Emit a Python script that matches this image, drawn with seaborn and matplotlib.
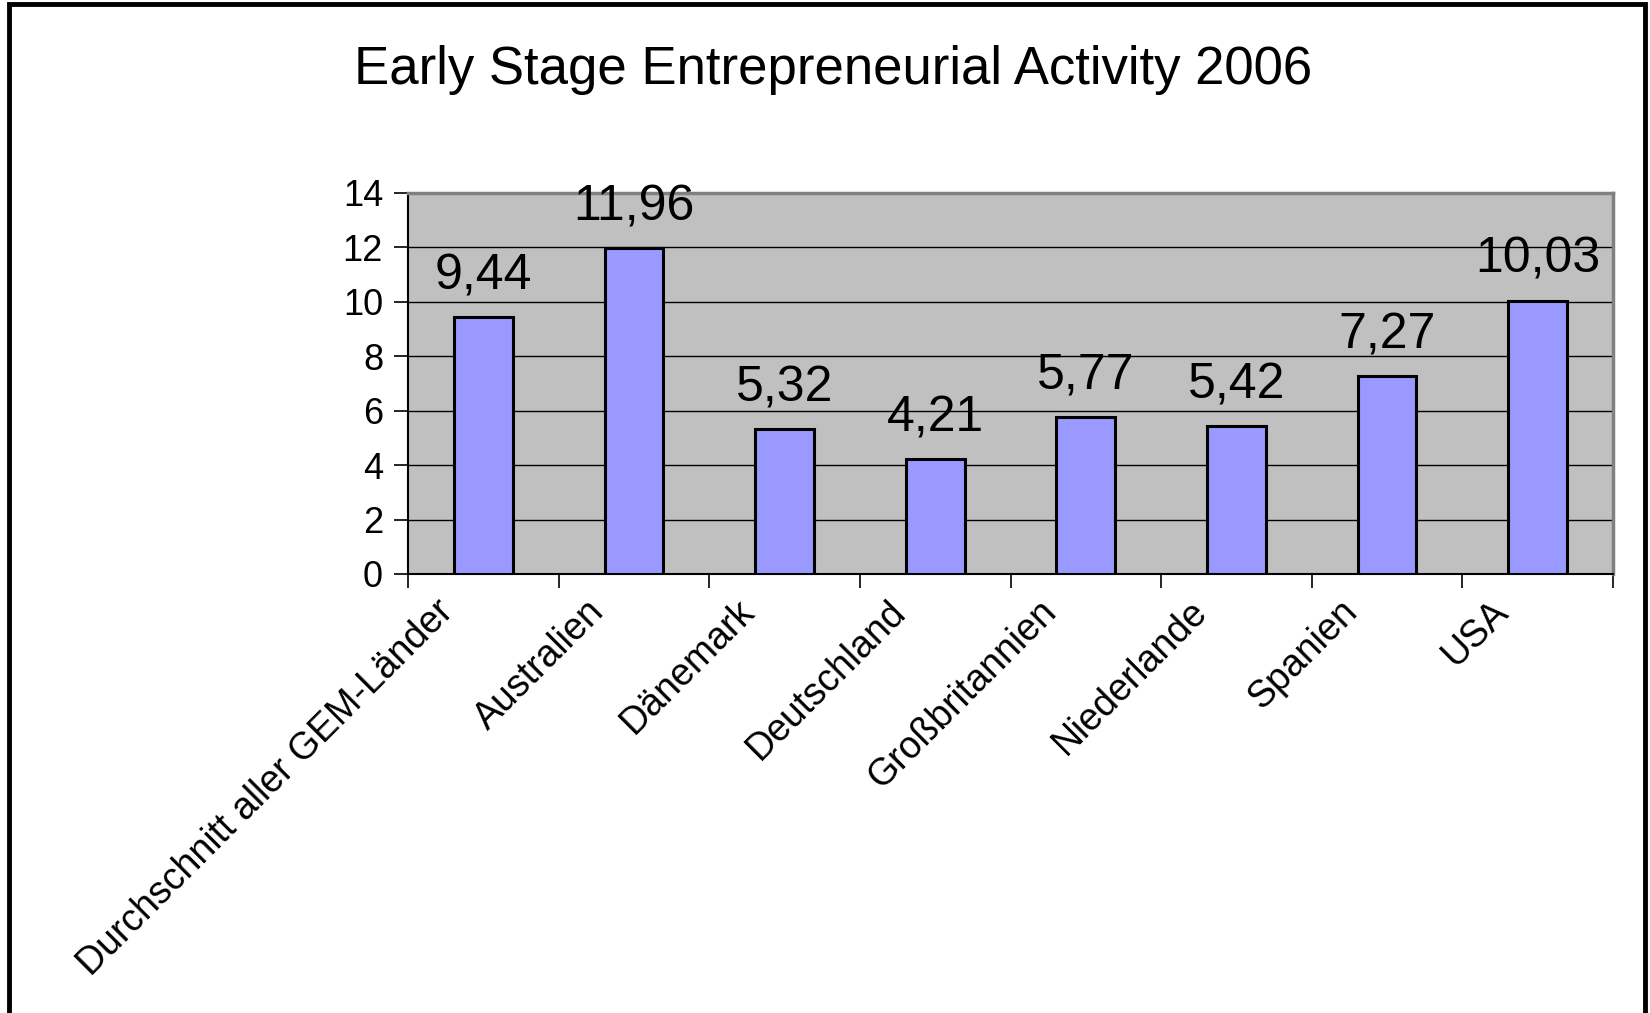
import matplotlib
matplotlib.use("Agg")
import matplotlib.pyplot as plt
import matplotlib.transforms as mtransforms
import seaborn as sns
import pandas as pd
from matplotlib.patches import Rectangle
from matplotlib.ticker import FixedLocator

# Early-stage entrepreneurial activity (TEA) 2006, in percent
countries = [
    "Durchschnitt aller GEM-Länder",
    "Australien",
    "Dänemark",
    "Deutschland",
    "Großbritannien",
    "Niederlande",
    "Spanien",
    "USA",
]
tea_values = [9.44, 11.96, 5.32, 4.21, 5.77, 5.42, 7.27, 10.03]
y_ticks = [0, 2, 4, 6, 8, 10, 12, 14]
title = "Early Stage Entrepreneurial Activity 2006"

df = pd.DataFrame({"Land": countries, "TEA": tea_values})

sns.set_theme(style="white")
plt.rcParams["font.family"] = ["Liberation Sans", "DejaVu Sans"]

fig = plt.figure(figsize=(16.5, 10.13), dpi=100)
fig.patch.set_facecolor("white")
ax = fig.add_axes([0.2473, 0.4334, 0.7303, 0.3761])

sns.barplot(data=df, x="Land", y="TEA", ax=ax, color="#9999FF",
            saturation=1, width=0.39, edgecolor="black", linewidth=2.2,
            zorder=3)

ax.set_facecolor("#C0C0C0")
ax.set_ylim(0, 14)
ax.set_xlim(-0.5, len(countries) - 0.5)
ax.set_yticks(y_ticks)
ax.set_yticklabels([str(t) for t in y_ticks], fontsize=26)
ax.yaxis.grid(True, color="black", linewidth=1.0)
ax.xaxis.grid(False)
ax.set_axisbelow(True)
ax.set_xlabel("")
ax.set_ylabel("")

# category labels sit at bar centres, tick marks at category boundaries
ax.set_xticks(range(len(countries)))
ax.set_xticklabels(countries, fontsize=27, rotation=45, ha="right",
                   va="top", rotation_mode="anchor")
ax.tick_params(axis="x", which="major", length=0, pad=14)
shift = mtransforms.ScaledTranslation(-48 / 100, 0, fig.dpi_scale_trans)
for lbl in ax.get_xticklabels():
    lbl.set_transform(lbl.get_transform() + shift)
ax.xaxis.set_minor_locator(FixedLocator([i - 0.5 for i in range(len(countries) + 1)]))
ax.tick_params(axis="x", which="minor", length=10, width=1.2, color="black",
               direction="out", bottom=True)
ax.tick_params(axis="y", which="major", length=10, width=1.2, color="black",
               direction="out", left=True, pad=8)
ax.tick_params(axis="both", colors="black", labelcolor="black")

for side in ("top", "right"):
    ax.spines[side].set_color("#808080")
    ax.spines[side].set_linewidth(2.5)
for side in ("left", "bottom"):
    ax.spines[side].set_color("black")
    ax.spines[side].set_linewidth(1.5)

labels = [f"{v:.2f}".replace(".", ",") for v in tea_values]
ax.bar_label(ax.containers[0], labels=labels, fontsize=36, padding=13,
             color="black", clip_on=False, zorder=5)

fig.text(0.505, 1 - 84 / 1013, title, fontsize=38, ha="center",
         va="baseline", color="black")

# outer frame around the chart area
fig.patches.append(Rectangle((9 / 1650, -0.05), (1645 - 9) / 1650, 1.05 - 4 / 1013,
                             transform=fig.transFigure, fill=False,
                             edgecolor="black", linewidth=3.5))

fig.savefig("out.png", dpi=100, facecolor="white")
